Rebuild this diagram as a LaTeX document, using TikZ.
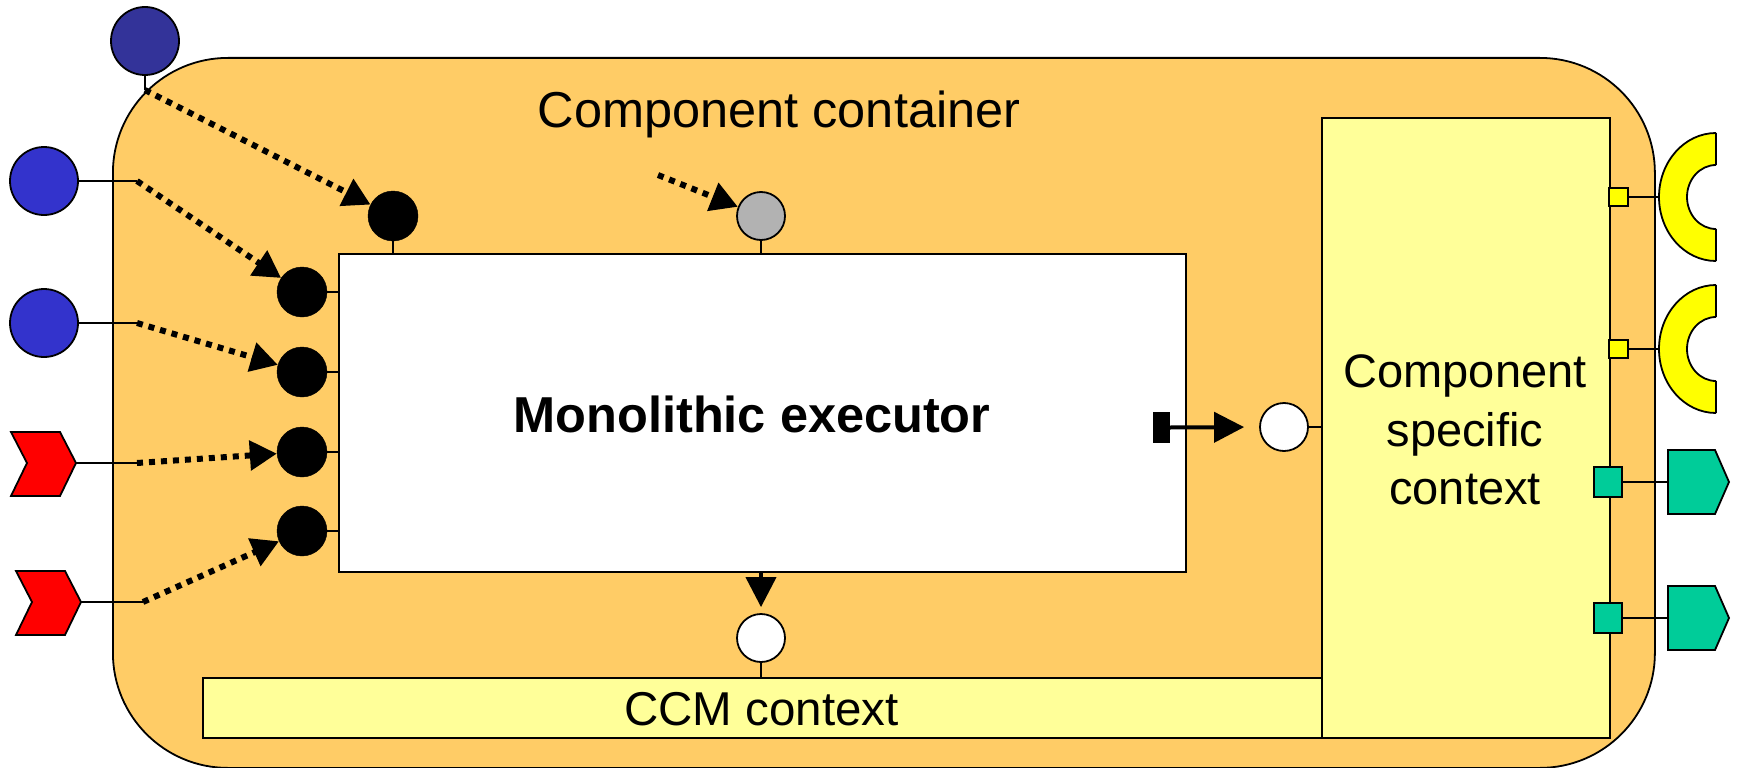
\documentclass[tikz,border=0pt]{standalone}
\usepackage{fontspec}
\setmainfont{Liberation Sans}
\usetikzlibrary{arrows.meta}
\definecolor{containerfill}{HTML}{FFCC66}
\definecolor{ctxfill}{HTML}{FFFF99}
\definecolor{navyport}{HTML}{333399}
\definecolor{blueport}{HTML}{3333CC}
\definecolor{greenport}{HTML}{00CC99}
\definecolor{greyport}{HTML}{B2B2B2}
\definecolor{recfill}{HTML}{FFFF00}

\begin{document}
\begin{tikzpicture}[x=1pt,y=-1pt,
  outline/.style={draw=black, line width=1.8pt},
  box/.style={outline, inner sep=0pt, anchor=north west},
  port/.style={circle, outline, inner sep=0pt, minimum size=48pt},
  facet/.style={circle, draw=black, fill=black, inner sep=0pt, minimum size=50pt},
  srcport/.style={circle, outline, inner sep=0pt, minimum size=68pt},
  wire/.style={line width=1.5pt},
  flow/.style={line width=6pt, dash pattern=on 6pt off 6pt,
    -{Triangle[length=27pt,width=29pt]}},
  push/.style={line width=4pt, -{Triangle[length=30pt,width=30pt]}},
  label/.style={anchor=base, inner sep=0pt, font=\fontsize{50.5}{60}\selectfont},
]
\useasboundingbox (0,0) rectangle (1740,768);

% container and its inner parts
\node[box, fill=containerfill, rounded corners=115pt,
  minimum width=1542pt, minimum height=710pt] (container) at (112,57) {};
\node[box, fill=white, minimum width=847pt, minimum height=318pt] (exec) at (338,253) {};
\node[box, fill=ctxfill, minimum width=288pt, minimum height=620pt] (csc) at (1321,117) {};
\node[box, fill=ctxfill, minimum width=1119pt, minimum height=60pt] (ccm) at (202,677) {};

% labels
\node[label] (ctitle) at (779,127) {Component container};
\node[label, font=\fontsize{50.5}{60}\selectfont\bfseries] (etitle) at (752,432) {Monolithic executor};
\node[anchor=base, inner sep=0pt, font=\fontsize{47.5}{56}\selectfont] (ccmtitle) at (761.5,725)
  {CCM context};
\node[align=center, inner sep=0pt, font=\fontsize{47}{58.5}\selectfont] (csctitle) at (1465,430)
  {Component\\specific\\context};

% executor facets
\node[facet] (f1) at (393,216) {};
\node[facet] (f2) at (302,292) {};
\node[facet] (f3) at (302,372) {};
\node[facet] (f4) at (302,452) {};
\node[facet] (f5) at (302,531) {};
\draw[wire] (f1.south) -- (f1.south |- exec.north);
\foreach \f in {f2,f3,f4,f5} \draw[wire] (\f.east) -- (\f -| exec.west);

% container-provided ports
\node[port, fill=greyport] (g) at (761,216) {};
\draw[wire] (g.south) -- (g.south |- exec.north);
\node[port, fill=white] (wr) at (1284,427) {};
\draw[wire] (wr.east) -- (wr -| csc.west);
\node[port, fill=white] (wb) at (761,638) {};
\draw[wire] (wb.south) -- (wb.south |- ccm.north);

% executor calls into the contexts
\node[fill=black, inner sep=0pt, minimum width=17pt, minimum height=31pt] (hd) at (1161.5,427.5) {};
\draw[push, shorten >=15pt] (hd.east) -- (wr.west);
\draw[push, shorten >=6pt] (wb |- exec.south) -- (wb.north);

% external ports on the left
\node[srcport, fill=navyport] (s0) at (145,41) {};
\node[srcport, fill=blueport] (s1) at (44,181) {};
\node[srcport, fill=blueport] (s2) at (44,323) {};
\draw[outline, fill=red] (11,432) -- (60,432) -- (76,463) -- (60,496) -- (11,496) -- (27,463) -- cycle;
\coordinate (e1) at (76,463);
\draw[outline, fill=red] (16,571) -- (65,571) -- (81,602) -- (65,635) -- (16,635) -- (32,602) -- cycle;
\coordinate (e2) at (81,602);

\coordinate (k0) at (145,90);
\coordinate (k1) at (137,181);
\coordinate (k2) at (137,323);
\coordinate (k3) at (137,463);
\coordinate (k4) at (143,602);
\coordinate (k5) at (658,175);
\draw[wire] (s0.south) -- (k0);
\draw[wire] (s1.east) -- (k1);
\draw[wire] (s2.east) -- (k2);
\draw[wire] (e1) -- (k3);
\draw[wire] (e2) -- (k4);
\draw[flow] (k0) -- (f1);
\draw[flow] (k1) -- (f2);
\draw[flow] (k2) -- (f3);
\draw[flow] (k3) -- (f4);
\draw[flow] (k4) -- (f5);
\draw[flow] (k5) -- (g);

% receptacles on the right
\foreach \n/\y in {1/197,2/349} {
  \node[outline, fill=recfill, inner sep=0pt, minimum width=19pt, minimum height=18pt]
    (y\n) at (1618.5,\y) {};
  \begin{scope}
    \clip (1640,\y-80) rectangle (1716,\y+80);
    \draw[outline, fill=recfill, even odd rule]
      (1716,\y) ellipse [x radius=57pt, y radius=64pt]
      (1716,\y) ellipse [x radius=29pt, y radius=32pt];
  \end{scope}
  \draw[outline] (1716,\y-64) -- (1716,\y-32) (1716,\y+32) -- (1716,\y+64);
  \coordinate (r\n) at (1659,\y);
  \draw[wire] (y\n.east) -- (r\n);
}

% event sources on the right
\foreach \n/\y in {1/482,2/618} {
  \node[outline, fill=greenport, inner sep=0pt, minimum width=28pt, minimum height=30pt]
    (q\n) at (1608,\y) {};
  \draw[outline, fill=greenport] (1668,\y-32) -- (1715,\y-32) -- (1729,\y)
    -- (1715,\y+32) -- (1668,\y+32) -- cycle;
  \coordinate (p\n) at (1668,\y);
  \draw[wire] (q\n.east) -- (p\n);
}
\end{tikzpicture}
\end{document}
